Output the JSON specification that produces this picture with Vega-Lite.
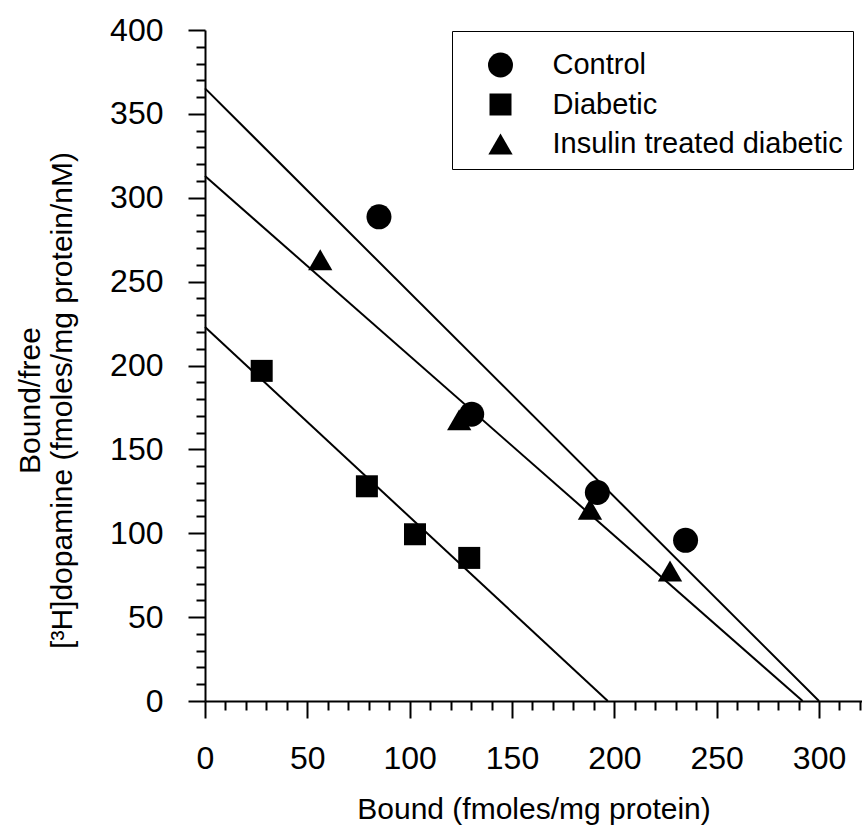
{
  "$schema": "https://vega.github.io/schema/vega-lite/v6.json",
  "width": 657,
  "height": 671,
  "autosize": "none",
  "padding": {"left": 205, "top": 30, "right": 0, "bottom": 133},
  "config": {
    "font": "Liberation Sans",
    "view": {"stroke": null},
    "axis": {
      "domainColor": "black",
      "domainWidth": 2,
      "tickColor": "black",
      "tickWidth": 2,
      "labelColor": "black",
      "titleColor": "black",
      "labelFont": "Liberation Sans",
      "titleFont": "Liberation Sans",
      "labelFontSize": 32,
      "titleFontSize": 30,
      "titleFontWeight": "normal",
      "grid": false
    },
    "legend": {
      "labelFont": "Liberation Sans",
      "titleFont": "Liberation Sans"
    }
  },
  "datasets": {
    "points": [
      {"group": "Control", "bound": 85.0, "ratio": 288.6},
      {"group": "Control", "bound": 130.3, "ratio": 171.0},
      {"group": "Control", "bound": 191.7, "ratio": 124.3},
      {"group": "Control", "bound": 234.8, "ratio": 95.8},
      {"group": "Diabetic", "bound": 27.7, "ratio": 196.8},
      {"group": "Diabetic", "bound": 79.1, "ratio": 128.0},
      {"group": "Diabetic", "bound": 102.6, "ratio": 99.4},
      {"group": "Diabetic", "bound": 129.1, "ratio": 85.3},
      {"group": "Insulin treated diabetic", "bound": 56.3, "ratio": 263.0},
      {"group": "Insulin treated diabetic", "bound": 124.2, "ratio": 167.6},
      {"group": "Insulin treated diabetic", "bound": 188.1, "ratio": 114.3},
      {"group": "Insulin treated diabetic", "bound": 227.2, "ratio": 77.5}
    ],
    "lines": [
      {"group": "Control", "bound": 0, "ratio": 365.2},
      {"group": "Control", "bound": 300, "ratio": 0},
      {"group": "Insulin treated diabetic", "bound": 0, "ratio": 312.9},
      {"group": "Insulin treated diabetic", "bound": 292, "ratio": 0},
      {"group": "Diabetic", "bound": 0, "ratio": 223.0},
      {"group": "Diabetic", "bound": 196.8, "ratio": 0}
    ],
    "frame": [
      {"ratio": 400}
    ]
  },
  "encoding": {
    "x": {
      "field": "bound",
      "type": "quantitative",
      "scale": {"domain": [0, 321], "nice": false, "zero": false},
      "axis": {
        "title": "Bound (fmoles/mg protein)",
        "values": [0,10,20,30,40,50,60,70,80,90,100,110,120,130,140,150,160,170,180,190,200,210,220,230,240,250,260,270,280,290,300,310,320],
        "labelExpr": "datum.value % 50 === 0 ? datum.label : ''",
        "tickSize": {"condition": {"test": "datum.value % 50 === 0", "value": 17}, "value": 9},
        "labelPadding": 25,
        "labelFlush": false,
        "labelOverlap": false,
        "titlePadding": 20
      }
    },
    "y": {
      "field": "ratio",
      "type": "quantitative",
      "scale": {"domain": [0, 400], "nice": false},
      "axis": {
        "title": ["Bound/free", "[³H]dopamine (fmoles/mg protein/nM)"],
        "titleLineHeight": 32,
        "titleY": 370,
        "values": [0,10,20,30,40,50,60,70,80,90,100,110,120,130,140,150,160,170,180,190,200,210,220,230,240,250,260,270,280,290,300,310,320,330,340,350,360,370,380,390,400],
        "labelExpr": "datum.value % 50 === 0 ? datum.label : ''",
        "tickSize": {"condition": {"test": "datum.value % 50 === 0", "value": 17}, "value": 9},
        "labelPadding": 25,
        "labelFlush": false,
        "labelOverlap": false,
        "titlePadding": 32
      }
    }
  },
  "layer": [
    {
      "data": {"name": "frame"},
      "mark": {"type": "rule", "color": "black", "strokeWidth": 2},
      "encoding": {"y": {"field": "ratio", "type": "quantitative"}}
    },
    {
      "data": {"name": "lines"},
      "mark": {"type": "line", "color": "black", "strokeWidth": 2},
      "encoding": {"detail": {"field": "group", "type": "nominal"}}
    },
    {
      "data": {"name": "points"},
      "mark": {"type": "point", "filled": true, "color": "black", "opacity": 1},
      "encoding": {
        "shape": {
          "field": "group",
          "type": "nominal",
          "scale": {"domain": ["Control", "Diabetic", "Insulin treated diabetic"], "range": ["circle", "square", "triangle-up"]},
          "legend": {
            "title": " ",
            "titleFontSize": 9.5,
            "titlePadding": 0,
            "orient": "none",
            "legendX": 247,
            "legendY": 1,
            "strokeColor": "black",
            "fillColor": "white",
            "padding": 10,
            "labelFontSize": 29,
            "labelColor": "black",
            "symbolOffset": 24,
            "labelOffset": 37.5,
            "rowPadding": 9.5,
            "symbolFillColor": "black",
            "symbolStrokeColor": "black",
            "labelLimit": 400,
            "encode": {"legend": {"update": {"strokeWidth": {"value": 1.5}}}}
          }
        },
        "size": {
          "field": "group",
          "type": "nominal",
          "scale": {"type": "ordinal", "domain": ["Control", "Diabetic", "Insulin treated diabetic"], "range": [625, 484, 590]},
          "legend": {
            "title": " ",
            "titleFontSize": 9.5,
            "titlePadding": 0,
            "orient": "none",
            "legendX": 247,
            "legendY": 1,
            "strokeColor": "black",
            "fillColor": "white",
            "padding": 10,
            "labelFontSize": 29,
            "labelColor": "black",
            "symbolOffset": 24,
            "labelOffset": 37.5,
            "rowPadding": 9.5,
            "symbolFillColor": "black",
            "symbolStrokeColor": "black",
            "labelLimit": 400,
            "encode": {"legend": {"update": {"strokeWidth": {"value": 1.5}}}}
          }
        }
      }
    }
  ]
}
